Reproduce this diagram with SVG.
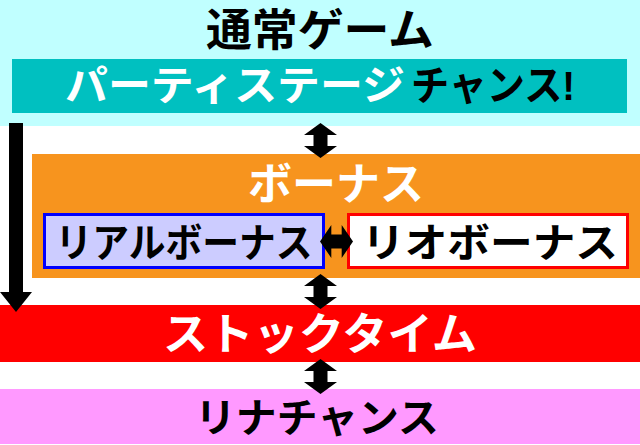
<svg xmlns="http://www.w3.org/2000/svg" width="640" height="445" viewBox="0 0 640 445">
<style>
text{font-family:"Liberation Sans","Noto Sans CJK JP","Noto Sans CJK SC",sans-serif;font-weight:bold;}
.w{fill:#ffffff;}
.k{fill:#000000;}
.arr{fill:#000000;}
</style>
<defs>
<path id="dv" d="M0,0 L16.5,12 L7,12 L7,23 L16.5,23 L0,35 L-16.5,23 L-7,23 L-7,12 L-16.5,12 Z"/>
</defs>
<rect x="0" y="0" width="640" height="445" fill="#ffffff"/>
<g id="normal-game">
<rect x="0" y="0" width="640" height="126" fill="#c0ffff"/>
<text class="k" x="320" y="46" font-size="44" text-anchor="middle" textLength="228" lengthAdjust="spacingAndGlyphs">通常ゲーム</text>
</g>
<g id="party-stage">
<rect x="12" y="59" width="615" height="54" fill="#00c0c0"/>
<text class="w" x="65" y="100" font-size="41" textLength="340" lengthAdjust="spacingAndGlyphs">パーティステージ</text>
<text class="k" x="411" y="100" font-size="41" textLength="164" lengthAdjust="spacingAndGlyphs">チャンス!</text>
</g>
<g id="bonus">
<rect x="32" y="154" width="608" height="124" fill="#f7941e"/>
<text class="w" x="336" y="200" font-size="44" text-anchor="middle" textLength="176" lengthAdjust="spacingAndGlyphs">ボーナス</text>
</g>
<g id="real-bonus">
<rect x="44.5" y="214.5" width="279" height="53" fill="#ccccff" stroke="#0000ff" stroke-width="3"/>
<text class="k" x="184" y="257" font-size="40" text-anchor="middle" textLength="257" lengthAdjust="spacingAndGlyphs">リアルボーナス</text>
</g>
<g id="rio-bonus">
<rect x="348.5" y="214.5" width="279" height="53" fill="#ffffff" stroke="#ff0000" stroke-width="3"/>
<text class="k" x="490" y="257" font-size="40" text-anchor="middle" textLength="256" lengthAdjust="spacingAndGlyphs">リオボーナス</text>
</g>
<g id="stock-time">
<rect x="0" y="305" width="640" height="57" fill="#ff0000"/>
<text class="w" x="320" y="350" font-size="44" text-anchor="middle" textLength="314" lengthAdjust="spacingAndGlyphs">ストックタイム</text>
</g>
<g id="rina-chance">
<rect x="0" y="389" width="640" height="55" fill="#ff99ff"/>
<text class="k" x="317" y="432" font-size="40" text-anchor="middle" textLength="244" lengthAdjust="spacingAndGlyphs">リナチャンス</text>
</g>
<g id="connectors" class="arr">
<use href="#dv" transform="translate(320.5,123)"/>
<use href="#dv" transform="translate(320.5,274)"/>
<use href="#dv" transform="translate(320.5,359)"/>
<use href="#dv" transform="translate(320,241.5) rotate(-90) scale(1,0.943)"/>
<path d="M9,123 L23,123 L23,292 L32,292 L16,312 L0,292 L9,292 Z"/>
</g>
</svg>
